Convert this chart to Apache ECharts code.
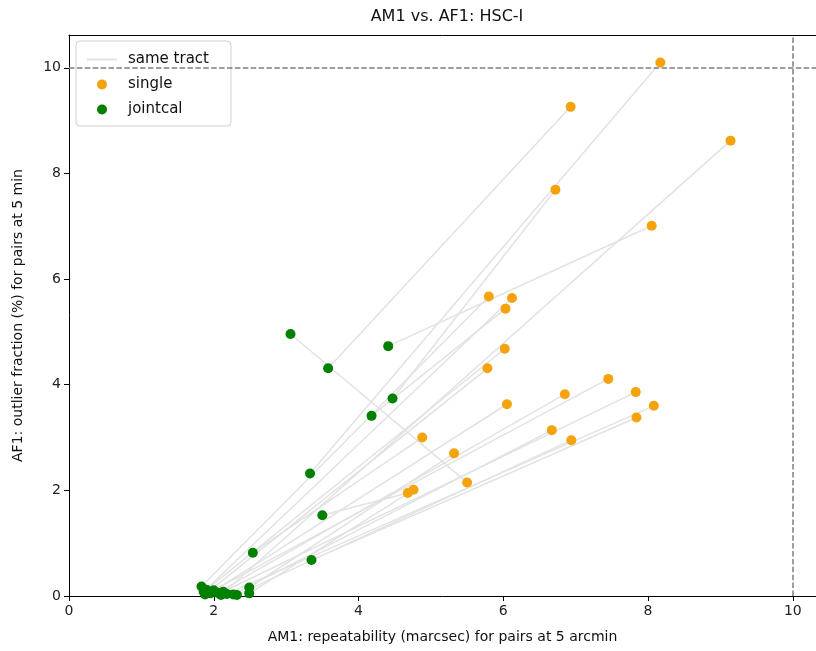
<!DOCTYPE html>
<html>
<head>
  <meta charset="UTF-8">
  <title>AM1 vs. AF1</title>
  <script src="https://cdn.jsdelivr.net/npm/echarts@6/dist/echarts.min.js"></script>
</head>
<body style="margin: 0; background: #fff;">
  <div id="main" style="width: 816px; height: 651px;"></div>
  <script type="text/javascript">
    // jointcal (green) and single (orange) values, one entry per tract, same order
    var jointcalAM1 = [3.06, 3.58, 4.41, 4.47, 4.18, 3.33, 3.50, 3.35, 2.54,
      1.83, 1.86, 1.90, 1.88, 2.10, 1.95, 2.00, 2.05, 2.13, 2.18, 2.27, 2.32, 2.49, 2.49];
    var jointcalAF1 = [4.96, 4.31, 4.73, 3.74, 3.41, 2.32, 1.53, 0.68, 0.82,
      0.18, 0.08, 0.12, 0.03, 0.02, 0.05, 0.11, 0.06, 0.08, 0.04, 0.03, 0.02, 0.16, 0.05];
    var singleAM1 = [5.50, 6.93, 8.05, 6.72, 6.03, 8.17, 4.68, 7.84, 4.88,
      5.80, 6.12, 6.02, 5.78, 9.14, 6.05, 7.45, 6.85, 7.83, 8.08, 6.67, 6.94, 5.32, 4.76];
    var singleAF1 = [2.15, 9.26, 7.01, 7.69, 5.44, 10.10, 1.95, 3.38, 3.00,
      5.67, 5.64, 4.68, 4.31, 8.62, 3.63, 4.11, 3.82, 3.86, 3.60, 3.14, 2.95, 2.70, 2.01];
    var tickValues = [0, 2, 4, 6, 8, 10];
    var threshold = 10;

    var myChart = echarts.init(document.getElementById('main'));
    var font = 'DejaVu Sans';

    var series = [];
    // gray line per tract joining the two runs
    for (var i = 0; i < jointcalAM1.length; i++) {
      series.push({
        name: 'same tract',
        type: 'line',
        symbol: 'none',
        silent: true,
        lineStyle: { color: '#e2e2e2', width: 1.5 },
        itemStyle: { color: 'rgba(0,0,0,0)' }, // keeps the legend icon a plain line
        data: [[jointcalAM1[i], jointcalAF1[i]], [singleAM1[i], singleAF1[i]]],
        z: 1
      });
    }
    series.push({
      name: 'single',
      type: 'scatter',
      symbolSize: 10,
      itemStyle: { color: '#f5a30c', opacity: 1 },
      data: singleAM1.map(function (x, i) { return [x, singleAF1[i]]; }),
      z: 3,
      markLine: {
        silent: true,
        symbol: 'none',
        label: { show: false },
        lineStyle: { color: '#7f7f7f', width: 1.5, type: [5.5, 2.4] },
        data: [{ yAxis: threshold }, { xAxis: threshold }]
      }
    });
    series.push({
      name: 'jointcal',
      type: 'scatter',
      symbolSize: 10,
      itemStyle: { color: '#008000', opacity: 1 },
      data: jointcalAM1.map(function (x, i) { return [x, jointcalAF1[i]]; }),
      z: 4
    });

    var option = {
      animation: false,
      textStyle: { fontFamily: font },
      title: {
        text: 'AM1 vs. AF1: HSC-I',
        left: 442,
        textAlign: 'center',
        top: 4,
        textStyle: { fontFamily: font, fontSize: 16, fontWeight: 'normal', color: '#111' }
      },
      grid: { left: 69, right: 0, top: 35, bottom: 55 },
      legend: {
        data: ['same tract', 'single', 'jointcal'],
        orient: 'vertical',
        left: 76,
        top: 41,
        padding: [11, 22, 9, 10],
        itemWidth: 30,
        itemHeight: 10,
        itemGap: 10,
        backgroundColor: '#fff',
        borderColor: '#d0d0d0',
        borderWidth: 1,
        borderRadius: 4,
        textStyle: { fontFamily: font, fontSize: 15, color: '#111', padding: [0, 0, 0, 6] }
      },
      xAxis: [{
        type: 'value',
        min: 0,
        max: 10.32,
        interval: 2,
        splitLine: { show: false },
        axisLine: { onZero: false, lineStyle: { color: '#000', width: 1 } },
        axisTick: { length: 5, lineStyle: { color: '#000' }, customValues: tickValues },
        axisLabel: { fontSize: 14, color: '#222', margin: 8, customValues: tickValues },
        name: 'AM1: repeatability (marcsec) for pairs at 5 arcmin',
        nameLocation: 'middle',
        nameGap: 34,
        nameTextStyle: { fontFamily: font, fontSize: 14, color: '#111' }
      }, {
        type: 'value',
        position: 'top',
        min: 0,
        max: 10.32,
        axisLine: { show: true, onZero: false, lineStyle: { color: '#000', width: 1 } },
        axisTick: { show: false },
        axisLabel: { show: false },
        splitLine: { show: false }
      }],
      yAxis: {
        type: 'value',
        min: 0,
        max: 10.62,
        interval: 2,
        splitLine: { show: false },
        axisLine: { show: true, onZero: false, lineStyle: { color: '#000', width: 1 } },
        axisTick: { show: true, length: 5, lineStyle: { color: '#000' }, customValues: tickValues },
        axisLabel: { fontSize: 14, color: '#222', margin: 8, customValues: tickValues },
        name: 'AF1: outlier fraction (%) for pairs at 5 min',
        nameLocation: 'middle',
        nameGap: 44,
        nameTextStyle: { fontFamily: font, fontSize: 14, color: '#111' }
      },
      series: series
    };

    myChart.setOption(option);
  </script>
</body>
</html>
